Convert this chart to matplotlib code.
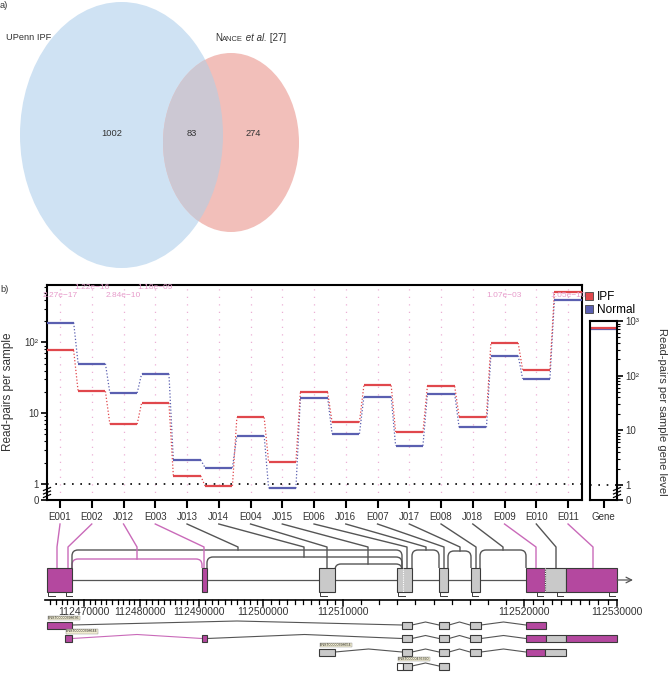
import numpy as np
import matplotlib
matplotlib.use("Agg")
import matplotlib.pyplot as plt
from matplotlib import font_manager
from matplotlib.patches import Ellipse, Rectangle, PathPatch
from matplotlib.path import Path
from matplotlib.lines import Line2D

W, H = 669, 676

names = {f.name for f in font_manager.fontManager.ttflist}
HAS_NARROW = "Liberation Sans Narrow" in names
NARROW = "Liberation Sans Narrow" if HAS_NARROW else "Liberation Sans"
NS = 1.0 if HAS_NARROW else 0.83   # size factor for the narrow font
plt.rcParams["font.family"] = ["Liberation Sans", "DejaVu Sans"]

# ---------------- data ----------------
venn_counts = [1002, 83, 274]

features = ["E001", "E002", "J012", "E003", "J013", "J014", "E004", "J015", "E006",
            "J016", "E007", "J017", "E008", "J018", "E009", "E010", "E011"]
ipf_counts = [77, 20.4, 7.0, 14, 1.3, 0.88, 8.7, 2.05, 19.7, 7.4, 24.6, 5.4, 24, 8.9, 98, 41, 507]
normal_counts = [190, 50, 19.3, 36, 2.19, 1.7, 4.8, 0.73, 16.4, 5.1, 17.0, 3.46, 18.7, 6.3, 65, 30.6, 398]
gene_ipf = 745
gene_normal = 715
pvals = {"E001": "2.27e\u221217", "E002": "1.22e\u221216", "J012": "2.84e\u221210",
         "E003": "1.18e\u221209", "E009": "1.07e\u221203", "E011": "1.05e\u221210"}
signif = ["E001", "E002", "J012", "E003", "E009", "E011"]

genome_ticks = [112470000, 112480000, 112490000, 112500000, 112510000, 112520000, 112530000]

# gene model (display units of the compressed gene track)
track_exons = [(47, 72, "m"), (202, 207, "m"), (319, 335, "g"), (397, 412, "g"), (439, 448, "g"),
               (471, 480, "g"), (526, 545, "m"), (545, 566, "g"), (566, 617, "m")]
junctions = {"J012": (72, 202, 559), "J013": (72, 402, 550), "J014": (207, 402, 557),
             "J015": (335, 402, 564), "J016": (412, 439, 550), "J017": (448, 471, 551),
             "J018": (480, 526, 550)}
feature_drop = [57, 68, 137, 204, 238, 304, 327, 368, 407, 426, 444, 460, 476, 503, 536, 556, 593]

tx_names = ["ENST00000398636", "ENST00000398644", "ENST00000398654", "ENST00000476390"]
tx_exons = [
    [(47, 72, "m"), (402, 412, "g"), (439, 449, "g"), (470, 481, "g"), (526, 546, "m")],
    [(65, 72, "m"), (202, 207, "m"), (402, 412, "g"), (439, 449, "g"), (470, 481, "g"),
     (526, 546, "m"), (546, 566, "g"), (566, 617, "m")],
    [(319, 335, "g"), (402, 412, "g"), (439, 449, "g"), (470, 481, "g"), (526, 545, "m"), (545, 566, "g")],
    [(397, 403, "w"), (403, 412, "g"), (439, 449, "g")],
]

RED = "#e0474c"
BLUE = "#5a5fb0"
PINK = "#e79ccb"
MAG = "#b4489f"
GBOX = "#c9c9c9"
EDGE = "#3a3a3a"
LINE = "#555555"
PLINE = "#c96ab9"
TXT = "#333333"
fills = {"m": MAG, "g": GBOX, "w": "white"}


def box(x0, y0, x1, y1):
    return [x0 / W, 1 - y1 / H, (x1 - x0) / W, (y1 - y0) / H]


def break_scale(c):
    def fwd(v):
        v = np.asarray(v, float)
        return np.where(v >= 1, np.log10(np.maximum(v, 1)), (v - 1) * c)

    def inv(t):
        t = np.asarray(t, float)
        return np.where(t >= 0, 10.0 ** np.maximum(t, 0), 1 + t / c)
    return fwd, inv


fig = plt.figure(figsize=(W / 100, H / 100), dpi=100)

# ---------------- panel b: main axes ----------------
ax = fig.add_axes(box(47, 285, 582, 500))
ax.patch.set_alpha(0)
ax.set_yscale("function", functions=break_scale(16 / 70.8))
x = np.arange(len(features))
half = 0.43
for i in x:
    ax.axvline(i, color=PINK, ls=(0, (1, 5)), lw=0.9, alpha=0.8, zorder=0)
ax.axhline(1, color="black", ls=(0, (1, 4)), lw=1.2, zorder=1)
for vals, col in [(normal_counts, BLUE), (ipf_counts, RED)]:
    ax.hlines(vals, x - half, x + half, color=col, lw=1.6, zorder=3)
    for i in range(len(vals) - 1):
        ax.plot([i + half, i + 1 - half], [vals[i], vals[i + 1]], color=col,
                ls=(0, (1, 1.6)), lw=0.9, zorder=2)
for k, name in enumerate(features):
    if name in pvals:
        yfrac = 0.987 if name in ("E002", "E003") else 0.953
        ax.text(k, yfrac, pvals[name], transform=ax.get_xaxis_transform(), ha="center",
                va="center", fontsize=6, color=PINK)
ax.set_xlim(-0.41, 16.44)
ax.set_ylim(0, 10 ** 2.81)
ax.set_xticks(x)
ax.set_xticklabels(features, fontsize=8.5 * NS, family=NARROW, color=TXT)
ax.set_yticks([0, 1, 10, 100])
ax.set_yticklabels(["0", "1", "10", "10\u00b2"], fontsize=8.5 * NS, family=NARROW, color=TXT)
minor = [m * d for d in (1, 10, 100) for m in range(2, 10) if m * d < 640]
ax.set_yticks(minor, minor=True)
ax.tick_params(axis="x", direction="out", length=6, width=1.5, pad=3)
ax.tick_params(axis="y", which="major", direction="out", length=4, width=1.2, pad=2)
ax.tick_params(axis="y", which="minor", direction="out", length=2.5, width=0.8)
ax.tick_params(axis="x", which="minor", length=0)
for s in ax.spines.values():
    s.set_linewidth(1.5)

# gene-level axes
gx = fig.add_axes(box(590, 321, 617, 500))
gx.set_yscale("function", functions=break_scale(15 / 54.7))
gx.set_xlim(-0.5, 0.5)
gx.set_ylim(0, 1000)
gx.axhline(1, color="black", ls=(0, (1, 4)), lw=1.2)
gx.hlines([gene_normal], -0.5, 0.5, color=BLUE, lw=1.6)
gx.hlines([gene_ipf], -0.5, 0.5, color=RED, lw=1.6)
gx.set_xticks([0])
gx.set_xticklabels(["Gene"], fontsize=8.5 * NS, family=NARROW, color=TXT)
gx.yaxis.tick_right()
gx.set_yticks([0, 1, 10, 100, 1000])
gx.set_yticklabels(["0", "1", "10", "10\u00b2", "10\u00b3"], fontsize=8.5 * NS, family=NARROW, color=TXT)
gminor = [m * d for d in (1, 10, 100) for m in range(2, 10)]
gx.set_yticks(gminor, minor=True)
gx.tick_params(axis="x", direction="out", length=6, width=1.5, pad=3)
gx.tick_params(axis="y", which="major", direction="out", length=4, width=1.2, pad=2)
gx.tick_params(axis="y", which="minor", direction="out", length=2.5, width=0.8)
gx.tick_params(axis="x", which="minor", length=0)
for s in gx.spines.values():
    s.set_linewidth(1.5)

handles = [Line2D([], [], marker="s", ls="none", markersize=5.5, markerfacecolor=RED,
                  markeredgecolor="#444", markeredgewidth=0.6, label="IPF"),
           Line2D([], [], marker="s", ls="none", markersize=5.5, markerfacecolor=BLUE,
                  markeredgecolor="#444", markeredgewidth=0.6, label="Normal")]
fig.legend(handles=handles, loc="upper left", bbox_to_anchor=(583 / W, 1 - 289 / H),
           frameon=False, fontsize=8.5, handlelength=0.7, handletextpad=0.3,
           labelspacing=0.05, borderaxespad=0, borderpad=0.2)

# ---------------- overlay (pixel coordinates) ----------------
ov = fig.add_axes([0, 0, 1, 1])
ov.set_xlim(0, W)
ov.set_ylim(H, 0)
ov.axis("off")
ov.patch.set_alpha(0)
ov.set_zorder(5)

# panel a: Venn
e_blue = Ellipse((121.5, 135), 203, 266, facecolor="#cfe2f3", edgecolor="none")
e_red = Ellipse((231, 142.5), 136, 179, facecolor="#f2bfba", edgecolor="none")
e_both = Ellipse((231, 142.5), 136, 179, facecolor="#ccc8d3", edgecolor="none")
ov.add_patch(e_blue)
ov.add_patch(e_red)
ov.add_patch(e_both)
e_both.set_clip_path(e_blue)
for xc, n in zip([112, 192, 253], venn_counts):
    ov.text(xc, 133, str(n), ha="center", va="center", fontsize=8 * NS, family=NARROW, color=TXT)
ov.text(6, 38, "UPenn IPF", ha="left", va="center", fontsize=8 * NS, family=NARROW, color=TXT)
t = ov.text(215, 38, "N", ha="left", va="center", fontsize=8.5 * NS, family=NARROW, color=TXT)
t = ov.annotate("ANCE", xy=(1, 0), xycoords=t, ha="left", va="bottom", fontsize=6.5 * NS,
                family=NARROW, color=TXT)
t = ov.annotate(" et al.", xy=(1, 0), xycoords=t, ha="left", va="bottom", fontsize=8.5 * NS,
                family=NARROW, style="italic", color=TXT)
ov.annotate(" [27]", xy=(1, 0), xycoords=t, ha="left", va="bottom", fontsize=8.5 * NS,
            family=NARROW, color=TXT)
ov.text(0, 5, "a)", ha="left", va="center", fontsize=8 * NS, family=NARROW, color=TXT)
ov.text(0, 290, "b)", ha="left", va="center", fontsize=8 * NS, family=NARROW, color=TXT)

ov.text(8, 392, "Read-pairs per sample", rotation=90, ha="center", va="center", fontsize=8.5, color=TXT)
ov.text(662, 412, "Read-pairs per sample gene level", rotation=-90, ha="center", va="center",
        fontsize=8, color=TXT)

# axis break marks
for xb in (47, 617):
    for yb in (489, 492.5, 496):
        ov.plot([xb - 3.5, xb + 3.5], [yb + 1.5, yb - 1.5], color="black", lw=0.9)

# gene track
yc, hh = 580, 12
ov.plot([72, 526], [yc, yc], color=LINE, lw=0.9, zorder=1)
for a, b, k in track_exons:
    ov.add_patch(Rectangle((a, yc - hh), b - a, 2 * hh, facecolor=fills[k], edgecolor=EDGE, lw=0.8, zorder=3))
for xd in (403, 545):
    ov.plot([xd, xd], [yc - hh, yc + hh], color="white", ls=(0, (1, 1)), lw=0.8, zorder=4)
ov.annotate("", xy=(633, yc), xytext=(617, yc),
            arrowprops=dict(arrowstyle="->", color=LINE, lw=0.9, shrinkA=0, shrinkB=0))
for a, b in [(48, 55), (66, 72), (320, 327), (398, 405), (440, 447), (472, 478), (537, 543), (557, 563), (609, 615)]:
    ov.plot([a, a, b], [yc + hh + 1, yc + hh + 4, yc + hh + 4], color=EDGE, lw=0.7)


def arc_path(x0, x1, ytop, ybase=568, r=6):
    r = min(r, (x1 - x0) / 2)
    verts = [(x0, ybase), (x0, ytop + r), (x0, ytop), (x0 + r, ytop), (x1 - r, ytop),
             (x1, ytop), (x1, ytop + r), (x1, ybase)]
    codes = [Path.MOVETO, Path.LINETO, Path.CURVE3, Path.CURVE3, Path.LINETO,
             Path.CURVE3, Path.CURVE3, Path.LINETO]
    return Path(verts, codes)


for name, (a, b, top) in junctions.items():
    col = PLINE if name in signif else LINE
    ov.add_patch(PathPatch(arc_path(a, b, top), facecolor="none", edgecolor=col, lw=1.0, zorder=2))

# connectors from the x labels to the gene model
fig.canvas.draw()
for k, name in enumerate(features):
    lx = ax.transData.transform((k, 1))[0]
    xd = feature_drop[k]
    target = junctions[name][2] if name in junctions else 568
    col = PLINE if name in signif else LINE
    ov.plot([lx, xd, xd], [524, 547, target], color=col, lw=1.0, zorder=2)

# genomic coordinate axis
gbreaks = [112463400] + genome_ticks
xbreaks = [47, 84, 140, 199, 263, 343, 524, 617]
ov.plot([45, 617], [600, 600], color="black", lw=1.2)
for g in range(112464000, 112530001, 1000):
    xp = np.interp(g, gbreaks, xbreaks)
    major = g in genome_ticks
    ov.plot([xp, xp], [600, 606 if major else 603.5], color="black", lw=1.1 if major else 0.9)
for g in genome_ticks:
    ov.text(np.interp(g, gbreaks, xbreaks), 612, str(g), ha="center", va="center",
            fontsize=9 * NS, family=NARROW, color=TXT)

# transcripts
for r, (name, exons) in enumerate(zip(tx_names, tx_exons)):
    yr = [625, 638.5, 652, 666][r]
    for j in range(len(exons) - 1):
        e0, e1 = exons[j][1], exons[j + 1][0]
        if e1 > e0:
            col = PLINE if (r == 1 and j == 0) else LINE
            peak = 4 if e1 - e0 > 100 else 3
            ov.plot([e0, (e0 + e1) / 2, e1], [yr, yr - peak, yr], color=col, lw=0.8, zorder=2)
    for a, b, k in exons:
        ov.add_patch(Rectangle((a, yr - 3.5), b - a, 7, facecolor=fills[k], edgecolor=EDGE, lw=0.8, zorder=3))
    ov.text(exons[0][0] + 1, yr - 5, name, ha="left", va="bottom", fontsize=2.6, color="#222",
            bbox=dict(boxstyle="square,pad=0.1", fc="#f1edd2", ec="#888", lw=0.3))

fig.savefig("out.png", dpi=100)
